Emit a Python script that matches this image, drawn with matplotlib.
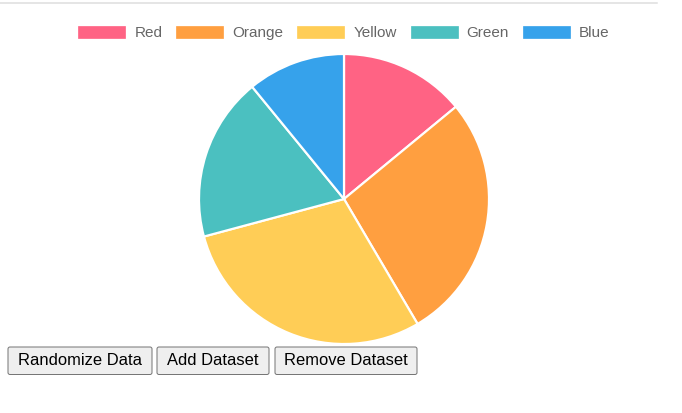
import matplotlib
matplotlib.use("Agg")
import matplotlib.pyplot as plt
from matplotlib.patches import Rectangle, FancyBboxPatch

W, H = 682, 413

labels = ["Red", "Orange", "Yellow", "Green", "Blue"]
values = [50.5, 99, 105.5, 65.7, 39.3]
colors = ["#ff6384", "#ff9f40", "#ffcd56", "#4bc0c0", "#36a2eb"]
buttons = ["Randomize Data", "Add Dataset", "Remove Dataset"]

plt.rcParams["font.family"] = ["Liberation Sans", "DejaVu Sans"]

def pt(px):
    return px * 72 / 100

def Y(py):
    return H - py

fig = plt.figure(figsize=(W / 100, H / 100), dpi=100)
ax = fig.add_axes([0, 0, 1, 1])

# pie, clockwise from 12 o'clock like chart.js
ax.pie(values, colors=colors, startangle=90, counterclock=False,
       center=(344, Y(199)), radius=145,
       wedgeprops=dict(edgecolor="white", linewidth=pt(2.2)))
ax.set_xlim(0, W)
ax.set_ylim(0, H)
ax.set_aspect("auto")
ax.axis("off")

# thin grey rule at top
ax.plot([0, 657], [Y(2.5), Y(2.5)], color="#dddddd", lw=pt(1.5))

# legend, centred across the top
renderer = fig.canvas.get_renderer()
box_w, box_h, gap, item_gap = 47, 12.5, 9, 14
texts = []
widths = []
for lab in labels:
    t = ax.text(0, Y(36.8), lab, fontsize=pt(15.2), color="#666666",
                va="baseline", ha="left")
    bb = t.get_window_extent(renderer)
    texts.append(t)
    widths.append(bb.width)
total = sum(box_w + gap + w for w in widths) + item_gap * (len(labels) - 1)
x = 344 - total / 2
for t, w, c in zip(texts, widths, colors):
    ax.add_patch(Rectangle((x, Y(32) - box_h / 2), box_w, box_h,
                           facecolor=c, edgecolor=c, lw=0.5))
    t.set_x(x + box_w + gap)
    x += box_w + gap + w + item_gap

# buttons
bx = [(8, 152), (157, 269), (275, 417)]
for lab, (x0, x1) in zip(buttons, bx):
    ax.add_patch(FancyBboxPatch((x0, Y(374.5)), x1 - x0, 27.5,
                                boxstyle="round,pad=0,rounding_size=2",
                                facecolor="#efefef", edgecolor="#767676",
                                lw=pt(1)))
    ax.text((x0 + x1) / 2, Y(360.5), lab, fontsize=pt(16.5), color="black",
            ha="center", va="center")

fig.savefig("out.png", dpi=100)
